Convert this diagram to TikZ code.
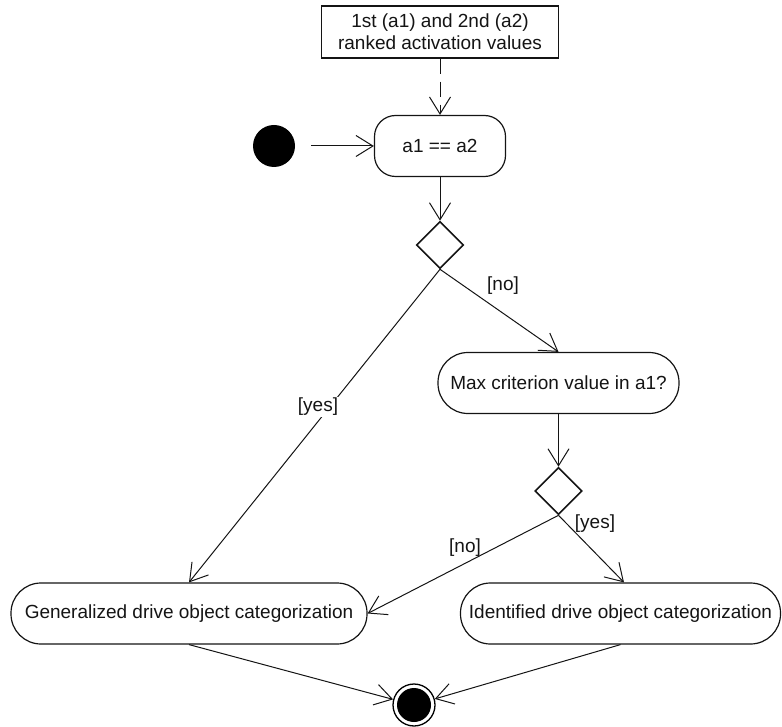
\documentclass[tikz,border=0pt]{standalone}
\usepackage{fontspec}
\setmainfont{Liberation Sans}
\usetikzlibrary{arrows.meta,shapes.geometric}

\definecolor{ink}{RGB}{20,20,20}

\tikzset{
  every node/.style={font=\fontsize{19}{22}\selectfont, text=ink},
  databox/.style={draw=ink, line width=1.4pt, rectangle, inner sep=0pt,
                  minimum width=237, minimum height=52, align=center},
  action/.style={draw=ink, line width=1.2pt, rectangle, inner sep=0pt,
                 minimum height=61},
  decision/.style={draw=ink, line width=1.6pt, diamond, aspect=1, inner sep=0pt,
                   minimum width=47, minimum height=47},
  startdot/.style={circle, fill=black, inner sep=0pt, minimum size=42},
  flow/.style={draw=ink, line width=1pt,
               -{Straight Barb[length=17pt,width=21pt,line width=1pt]}},
  guard/.style={fill=white, inner sep=1pt},
}

\begin{document}
\begin{tikzpicture}[x=1pt, y=-1pt]
  \useasboundingbox (0,0) rectangle (782,727);

  % object node and actions
  \node[databox] (data) at (440,32)
    {1st (a1) and 2nd (a2)\\ranked activation values};
  \node[action, minimum width=131, rounded corners=21] (cmp) at (440,146) {a1 == a2};
  \node[decision] (d1) at (440,245) {};
  \node[action, minimum width=241, rounded corners=30] (maxc) at (558.5,383)
    {Max criterion value in a1?};
  \node[decision] (d2) at (558.5,491) {};
  \node[action, minimum width=356, rounded corners=30] (gen) at (189,613.5)
    {Generalized drive object categorization};
  \node[action, minimum width=320, rounded corners=30] (idn) at (620.5,613.5)
    {Identified drive object categorization};

  % initial and final nodes
  \node[startdot] (init) at (274,146) {};
  \node[circle, draw=black, line width=1.3pt, inner sep=0pt, minimum size=42] (final) at (414,705) {};
  \fill[black] (final.center) circle[radius=17];

  % control and object flows
  \draw[flow, dash pattern=on 15pt off 8pt] (data.south) -- (cmp.north);
  \draw[flow, shorten <=16pt] (init.east) -- (cmp.west);
  \draw[flow] (cmp.south) -- (d1.north);
  \draw[flow] (d1.south) -- (gen.north);
  \draw[flow] (d1.south) -- (maxc.north);
  \draw[flow] (maxc.south) -- (d2.north);
  \draw[flow] (d2.south) -- ([xshift=3.5pt]idn.north);
  \draw[flow] (d2.south) -- (gen.east);
  \draw[flow] (gen.south) -- (final);
  \draw[flow] (idn.south) -- (final);

  % guards
  \node (gno1) at (503,286) {[no]};
  \node[guard] (gyes1) at (318,407) {[yes]};
  \node (gyes2) at (595,524) {[yes]};
  \node (gno2) at (465,548) {[no]};
\end{tikzpicture}
\end{document}
